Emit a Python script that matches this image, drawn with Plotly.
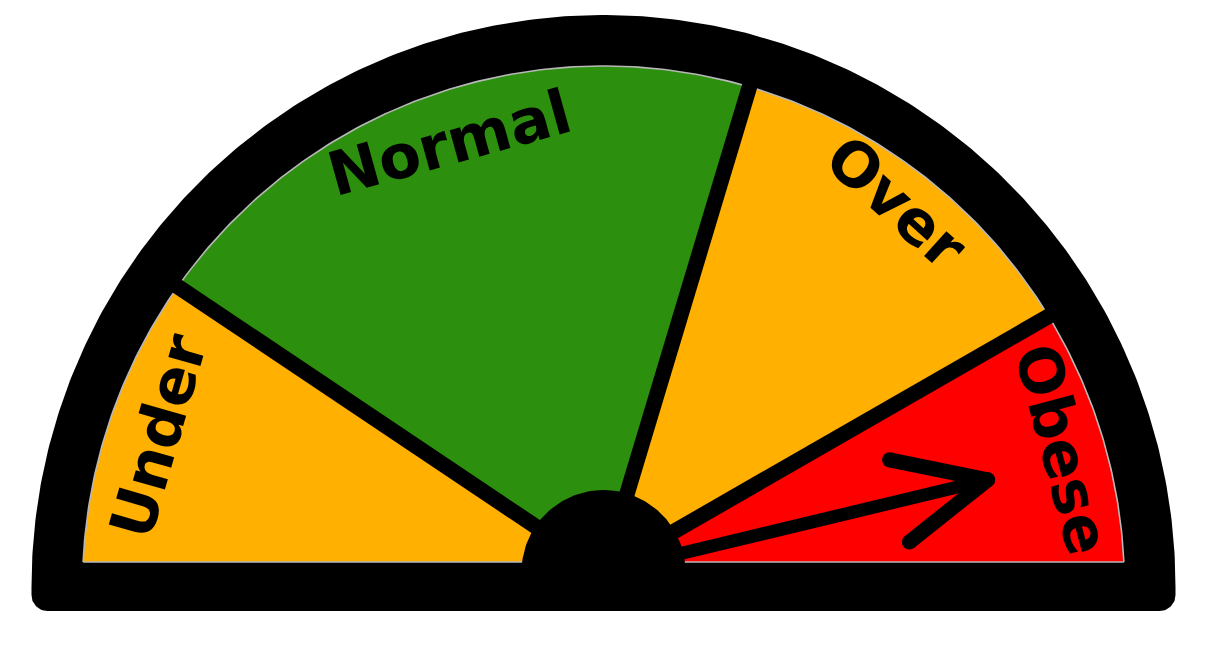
import numpy as np
import plotly.graph_objects as go

categories = ["Under", "Normal", "Over", "Obese"]
band_edges = [0, 18.8, 59.3, 83.4, 100]
band_colors = ["#FFB000", "#2C8F0E", "#FFB000", "#FF0000"]
needle_value = 92.5

# dial geometry, in pixels (1 data unit = 1 px)
R_IN, R_OUT = 521, 572
PIV_Y = 15          # needle / divider pivot sits a bit under the arc centre
HUB_R = 82
BAR_TOP, BAR_BOT = 25, -24
LABEL_R = [466, 456, 472, 475]
LABEL_ROT = [-74, -15.5, 42, 75]


def ang(v):
    return np.radians(180 - v * 1.8)


def hit(th, r):
    # where a ray from the pivot meets the circle of radius r
    b = PIV_Y * np.sin(th)
    t = -b + np.sqrt(b * b - (PIV_Y ** 2 - r ** 2))
    return t * np.cos(th), PIV_Y + t * np.sin(th)


def poly(xs, ys, color):
    return go.Scatter(x=xs, y=ys, mode="lines", fill="toself", fillcolor=color,
                      line=dict(width=0, color=color), hoverinfo="skip")


fig = go.Figure()

# black rim + base with rounded bottom corners
rc = 16
th = np.linspace(0, np.pi, 300)
ox = list(R_OUT * np.cos(th))
oy = list(R_OUT * np.sin(th))
c1 = np.linspace(np.pi, 1.5 * np.pi, 20)
ox += list(-R_OUT + rc + rc * np.cos(c1))
oy += list(BAR_BOT + rc + rc * np.sin(c1))
c2 = np.linspace(1.5 * np.pi, 2 * np.pi, 20)
ox += list(R_OUT - rc + rc * np.cos(c2))
oy += list(BAR_BOT + rc + rc * np.sin(c2))
fig.add_trace(poly(ox, oy, "black"))

# coloured bands
for lo, hi, col in zip(band_edges[:-1], band_edges[1:], band_colors):
    t = np.linspace(ang(lo), ang(hi), 120)
    hx, hy = hit(t, R_IN)
    fig.add_trace(poly([0] + list(hx) + [0], [PIV_Y] + list(hy) + [PIV_Y], col))

# base bar over the bottom of the bands
fig.add_trace(poly([-R_IN - 10, R_IN + 10, R_IN + 10, -R_IN - 10],
                   [0, 0, BAR_TOP, BAR_TOP], "black"))

# faint light edge round the coloured area
lim = np.arcsin(BAR_TOP / R_IN)
t = np.linspace(lim, np.pi - lim, 300)
fig.add_trace(go.Scatter(x=list(R_IN * np.cos(t)) + [None, -R_IN * np.cos(lim), R_IN * np.cos(lim)],
                         y=list(R_IN * np.sin(t)) + [None, BAR_TOP, BAR_TOP],
                         mode="lines", line=dict(color="#b8b8b8", width=1.6), hoverinfo="skip"))

# dividers between bands
for v in band_edges[1:-1]:
    ex, ey = hit(ang(v), R_IN + 20)
    fig.add_trace(go.Scatter(x=[0, ex], y=[PIV_Y, ey], mode="lines",
                             line=dict(color="black", width=15.5), hoverinfo="skip"))

# hub
a0 = np.arcsin(PIV_Y / HUB_R)
t = np.linspace(-a0, np.pi + a0, 120)
fig.add_trace(poly(HUB_R * np.cos(t), PIV_Y + HUB_R * np.sin(t), "black"))

# needle
a = ang(needle_value)
L, arm, spread = 395, 100, np.radians(25)
tx, ty = L * np.cos(a), PIV_Y + L * np.sin(a)
ux, uy = tx + arm * np.cos(a + np.pi - spread), ty + arm * np.sin(a + np.pi - spread)
lx, ly = tx + arm * np.cos(a + np.pi + spread), ty + arm * np.sin(a + np.pi + spread)
fig.add_trace(go.Scatter(x=[0, tx], y=[PIV_Y, ty], mode="lines",
                         line=dict(color="black", width=13), hoverinfo="skip"))
fig.add_trace(go.Scatter(x=[tx, ux, None, tx, lx], y=[ty, uy, None, ty, ly],
                         mode="lines+markers", line=dict(color="black", width=15),
                         marker=dict(color="black", size=15), hoverinfo="skip"))

# band labels, written along the arc
for i, (name, lo, hi) in enumerate(zip(categories, band_edges[:-1], band_edges[1:])):
    m = ang((lo + hi) / 2)
    fig.add_annotation(x=LABEL_R[i] * np.cos(m), y=PIV_Y + LABEL_R[i] * np.sin(m), text=name,
                       textangle=LABEL_ROT[i], showarrow=False,
                       xanchor="center", yanchor="middle",
                       font=dict(family="DejaVu Sans", size=61, color="black", weight="bold"))

# page body has an 8px margin, so the figure is 8px smaller and the ranges start 8px in
fig.update_layout(
    width=1204, height=642,
    margin=dict(l=0, r=0, t=0, b=0),
    paper_bgcolor="white", plot_bgcolor="white",
    showlegend=False, hovermode=False,
    xaxis=dict(range=[-595.5, 608.5], visible=False, fixedrange=True),
    yaxis=dict(range=[-63, 579], visible=False, fixedrange=True),
)

fig.write_html("out.html")
